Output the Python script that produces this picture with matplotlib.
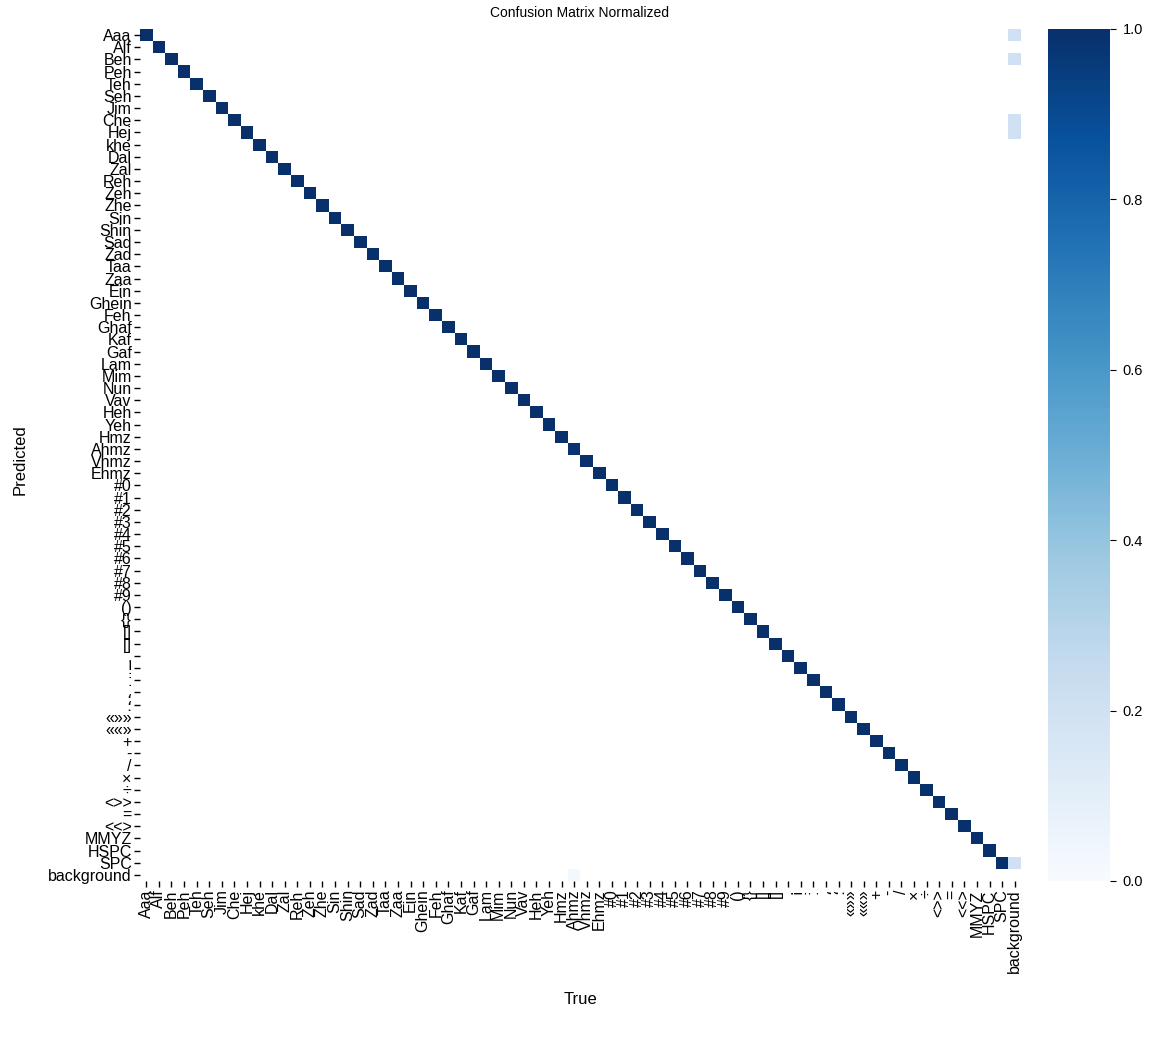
import numpy as np
import matplotlib
matplotlib.use("Agg")
import matplotlib.pyplot as plt

plt.rcParams['font.family'] = ['Liberation Sans', 'DejaVu Sans']

# class names (order on both axes), background added last
letters = ['Aaa', 'Alf', 'Beh', 'Peh', 'Teh', 'Seh', 'Jim', 'Che', 'Hej', 'khe',
           'Dal', 'Zal', 'Reh', 'Zeh', 'Zhe', 'Sin', 'Shin', 'Sad', 'Zad', 'Taa',
           'Zaa', 'Ein', 'Ghein', 'Feh', 'Ghaf', 'Kaf', 'Gaf', 'Lam', 'Mim', 'Nun',
           'Vav', 'Heh', 'Yeh', 'Hmz', 'Ahmz', 'Vhmz', 'Ehmz']
digits = ['#0', '#1', '#2', '#3', '#4', '#5', '#6', '#7', '#8', '#9']
signs = ['()', '{}', '[]', '[]', '.', '!', ':', '\u060c', '\u061b',
         '\u00ab\u00bb\u00bb', '\u00ab\u00ab\u00bb', '+', '-', '/', '\u00d7', '\u00f7',
         '<>>', '=', '<<>']
specials = ['MMYZ', 'HSPC', 'SPC']
names = letters + digits + signs + specials + ['background']

# diagonal (true positive rate per class, background excluded)
diag_letters = [1.00, 1.00, 1.00, 1.00, 1.00, 1.00, 1.00, 1.00, 1.00, 1.00,
                1.00, 1.00, 1.00, 1.00, 1.00, 1.00, 1.00, 1.00, 1.00, 1.00,
                1.00, 1.00, 1.00, 1.00, 1.00, 1.00, 1.00, 1.00, 1.00, 1.00,
                1.00, 1.00, 1.00, 1.00, 0.98, 1.00, 1.00]
diag_digits = [1.00, 1.00, 1.00, 1.00, 1.00, 1.00, 1.00, 1.00, 1.00, 1.00]
diag_signs = [1.00, 1.00, 1.00, 1.00, 1.00, 1.00, 1.00, 1.00, 1.00, 1.00,
              1.00, 1.00, 1.00, 1.00, 1.00, 1.00, 1.00, 1.00, 1.00]
diag_specials = [1.00, 1.00, 1.00]

# false positives: predicted class while true is background
fp_classes = ['Aaa', 'Beh', 'Che', 'Hej', 'SPC']
fp_values = [0.20, 0.20, 0.20, 0.20, 0.20]

# missed detections: true class predicted as background
fn_classes = ['Ahmz']
fn_values = [0.02]

n = len(names)
mat = np.zeros((n, n))
diag = diag_letters + diag_digits + diag_signs + diag_specials
for i, v in enumerate(diag):
    mat[i, i] = v
for c, v in zip(fp_classes, fp_values):
    mat[names.index(c), n - 1] = v
for c, v in zip(fn_classes, fn_values):
    mat[n - 1, names.index(c)] = v

data = np.ma.masked_where(mat < 0.005, mat)
cmap = plt.get_cmap('Blues').copy()
cmap.set_bad('white')

W, H = 1174, 1039
fig = plt.figure(figsize=(W / 100, H / 100), dpi=100)
ax = fig.add_axes([140 / W, 1 - 881 / H, 881 / W, 852 / H])
cax = fig.add_axes([1048 / W, 1 - 881 / H, 62 / W, 852 / H])

im = ax.imshow(data, cmap=cmap, vmin=0, vmax=1, aspect='auto', interpolation='nearest')

ax.set_xticks(np.arange(n))
ax.set_xticklabels(names, rotation=90, fontsize=11.5)
ax.set_yticks(np.arange(n))
ax.set_yticklabels(names, fontsize=11.5)
ax.tick_params(length=4, width=1, pad=2)
for s in ax.spines.values():
    s.set_visible(False)

cb = fig.colorbar(im, cax=cax)
cb.outline.set_visible(False)
cb.set_ticks([0.0, 0.2, 0.4, 0.6, 0.8, 1.0])
cb.ax.tick_params(labelsize=10.5, length=4, pad=5)

fig.text(580 / W, 1 - 13 / H, 'Confusion Matrix Normalized', ha='center', va='center', fontsize=10)
fig.text(580 / W, 1 - 1000 / H, 'True', ha='center', va='center', fontsize=12)
fig.text(20 / W, 1 - 460 / H, 'Predicted', ha='center', va='center', rotation=90, fontsize=12)

fig.savefig('out.png', dpi=100)
